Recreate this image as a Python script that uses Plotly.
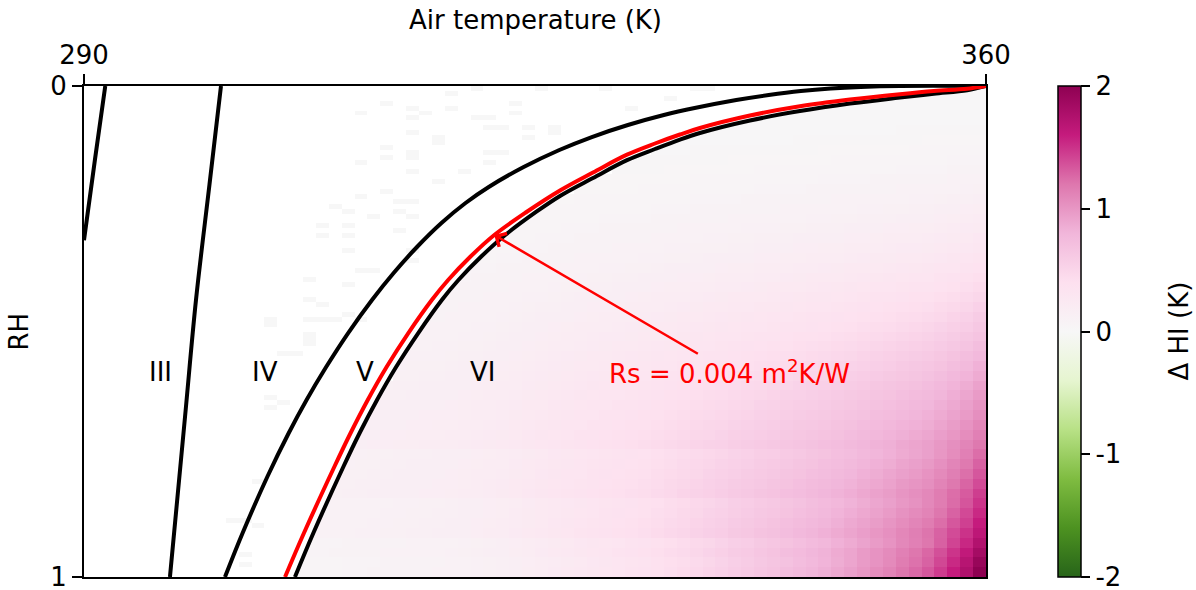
import plotly.graph_objects as go

# ---------------------------------------------------------------- data
T_TICKS = [290, 360]
RH_TICKS = [0, 1]
CBAR_TICKS = [-2, -1, 0, 1, 2]
CBAR_TICKTEXT = ["-2", "-1", "0", "1", "2"]

# Temperature cells of the ΔHI field (K), 1 K wide
T_CENTERS = [t + 0.5 for t in range(290, 360)]

# RH row centres of the ΔHI table, top (dry) to bottom (saturated)
RH_ROWS = [0.01, 0.03, 0.05, 0.07, 0.09, 0.11, 0.13, 0.15, 0.17, 0.19,
           0.21, 0.23, 0.25, 0.27, 0.29, 0.31, 0.33, 0.35, 0.37, 0.39,
           0.41, 0.43, 0.45, 0.47, 0.49, 0.51, 0.53, 0.55, 0.57, 0.59,
           0.61, 0.63, 0.65, 0.67, 0.69, 0.71, 0.73, 0.75, 0.77, 0.79,
           0.81, 0.83, 0.85, 0.87, 0.89, 0.91, 0.93, 0.95, 0.97, 0.99]

# ΔHI in units of 0.01 K; every row ends at the 359.5 K cell (region VI only)
DHI_ROWS = [
    [1, 1, 1, 1],
    [1, 1, 1, 1, 1, 1, 1, 1, 1, 1, 1],
    [1, 1, 1, 1, 1, 1, 1, 1, 1, 1, 2, 2, 2, 2, 2, 2],
    [1, 1, 1, 1, 1, 1, 1, 1, 2, 2, 2, 2, 2, 2, 2, 2, 2, 2, 2, 2],
    [1, 2, 2, 2, 2, 2, 2, 2, 2, 2, 2, 2, 2, 2, 2, 2, 3, 3, 3, 3, 3, 3, 3],
    [2, 2, 2, 2, 2, 2, 2, 2, 2, 2, 3, 3, 3, 3, 3, 3, 3, 3, 3, 3, 4, 4, 4, 4, 4],
    [2, 2, 2, 3, 3, 3, 3, 3, 3, 3, 3, 3, 3, 4, 4, 4, 4, 4, 4, 4, 5, 5, 5, 5, 6, 6],
    [3, 3, 3, 3, 3, 3, 3, 3, 4, 4, 4, 4, 4, 4, 4, 4, 5, 5, 5, 5, 5, 6, 6, 6, 6, 7, 7, 7],
    [3, 3, 3, 3, 4, 4, 4, 4, 4, 4, 4, 5, 5, 5, 5, 5, 5, 6, 6, 6, 6, 6, 7, 7, 7, 7, 8, 8, 9],
    [3, 4, 4, 4, 4, 4, 4, 4, 5, 5, 5, 5, 5, 6, 6, 6, 6, 6, 7, 7, 7, 7, 8, 8, 8, 8, 9, 9, 10, 10,
     11],
    [4, 4, 4, 4, 4, 5, 5, 5, 5, 6, 6, 6, 6, 6, 7, 7, 7, 7, 8, 8, 8, 8, 9, 9, 9, 10, 10, 10, 11,
     11, 12, 13],
    [4, 4, 5, 5, 5, 5, 5, 6, 6, 6, 6, 7, 7, 7, 7, 8, 8, 8, 8, 9, 9, 9, 10, 10, 10, 11, 11, 11, 12,
     12, 13, 14, 14, 15],
    [5, 5, 5, 5, 6, 6, 6, 6, 6, 7, 7, 7, 8, 8, 8, 9, 9, 9, 9, 10, 10, 10, 11, 11, 11, 12, 12, 13,
     13, 14, 14, 15, 16, 17, 18],
    [5, 5, 5, 6, 6, 6, 7, 7, 7, 7, 8, 8, 8, 9, 9, 9, 10, 10, 10, 11, 11, 11, 12, 12, 13, 13, 14,
     14, 14, 15, 16, 16, 17, 18, 19, 21],
    [5, 6, 6, 6, 7, 7, 7, 8, 8, 8, 8, 9, 9, 10, 10, 10, 11, 11, 12, 12, 12, 13, 13, 14, 14, 14, 15,
     16, 16, 17, 17, 18, 18, 19, 21, 22, 23],
    [5, 6, 6, 7, 7, 7, 8, 8, 8, 9, 9, 9, 10, 10, 11, 11, 12, 12, 13, 13, 14, 14, 14, 15, 15, 16,
     16, 17, 17, 18, 19, 20, 20, 21, 22, 23, 25, 27],
    [6, 6, 6, 7, 7, 8, 8, 9, 9, 9, 10, 10, 11, 11, 12, 12, 13, 13, 13, 14, 14, 15, 15, 16, 17, 17,
     18, 18, 19, 19, 20, 21, 22, 22, 23, 24, 26, 27, 29],
    [6, 6, 7, 7, 8, 8, 9, 9, 10, 10, 11, 11, 11, 12, 12, 13, 13, 14, 15, 15, 16, 16, 17, 17, 18,
     18, 19, 20, 20, 21, 22, 23, 23, 24, 25, 26, 27, 29, 31, 33],
    [7, 7, 7, 8, 8, 9, 9, 10, 10, 11, 11, 12, 12, 13, 13, 14, 15, 15, 16, 16, 17, 18, 18, 19, 19,
     20, 21, 21, 22, 23, 24, 24, 25, 26, 27, 28, 29, 31, 32, 34, 37],
    [7, 8, 8, 8, 9, 10, 10, 11, 11, 12, 13, 13, 14, 14, 15, 15, 16, 17, 17, 18, 19, 20, 20, 21, 21,
     22, 23, 24, 24, 25, 26, 27, 28, 29, 30, 31, 32, 34, 36, 38, 41],
    [7, 8, 8, 9, 9, 10, 11, 11, 12, 13, 13, 14, 14, 15, 16, 16, 17, 18, 18, 19, 20, 21, 21, 22, 23,
     24, 24, 25, 26, 27, 28, 29, 30, 31, 32, 33, 34, 35, 37, 39, 42, 45],
    [8, 8, 9, 9, 10, 10, 11, 12, 12, 13, 14, 15, 15, 16, 16, 17, 18, 19, 19, 20, 21, 22, 23, 24,
     24, 25, 26, 27, 28, 29, 29, 30, 31, 33, 34, 35, 36, 38, 39, 41, 43, 46, 49],
    [9, 9, 10, 10, 10, 11, 12, 13, 14, 14, 15, 16, 17, 17, 18, 19, 19, 20, 21, 22, 23, 24, 25, 26,
     26, 28, 28, 29, 30, 31, 32, 33, 34, 36, 37, 38, 40, 41, 42, 45, 47, 50, 54],
    [9, 9, 10, 10, 11, 11, 12, 13, 14, 15, 16, 16, 17, 18, 19, 19, 20, 21, 22, 23, 24, 25, 26, 27,
     28, 29, 30, 31, 32, 33, 34, 35, 36, 37, 39, 40, 41, 43, 44, 46, 48, 51, 54, 59],
    [10, 10, 10, 11, 12, 12, 13, 14, 15, 16, 17, 18, 19, 19, 20, 21, 22, 23, 24, 25, 26, 27, 28,
     29, 30, 31, 32, 33, 34, 35, 36, 37, 39, 40, 42, 43, 44, 46, 48, 50, 52, 55, 58, 63],
    [10, 11, 11, 11, 12, 12, 13, 14, 15, 16, 17, 18, 19, 20, 21, 22, 22, 23, 24, 25, 26, 28, 29,
     30, 31, 32, 33, 34, 35, 37, 38, 39, 40, 42, 43, 45, 46, 48, 50, 51, 53, 56, 59, 63, 67],
    [11, 11, 12, 12, 13, 13, 14, 15, 16, 17, 18, 19, 20, 21, 22, 23, 24, 25, 26, 27, 28, 30, 31,
     32, 33, 35, 36, 37, 38, 39, 41, 42, 43, 45, 46, 48, 50, 51, 53, 55, 57, 60, 63, 67, 72],
    [12, 12, 12, 12, 13, 14, 14, 15, 16, 17, 18, 19, 21, 22, 23, 24, 25, 26, 27, 28, 29, 30, 32,
     33, 34, 35, 37, 38, 40, 41, 42, 43, 45, 46, 48, 49, 51, 53, 55, 57, 59, 61, 64, 68, 72, 77],
    [12, 13, 13, 13, 14, 15, 15, 16, 17, 18, 19, 21, 22, 23, 24, 25, 26, 27, 28, 30, 31, 32, 34,
     35, 36, 38, 39, 40, 42, 43, 45, 46, 48, 49, 51, 52, 54, 56, 58, 61, 63, 65, 68, 72, 76, 83],
    [13, 13, 14, 14, 15, 15, 16, 17, 18, 19, 21, 22, 23, 25, 26, 27, 28, 29, 30, 31, 33, 34, 36,
     37, 39, 40, 42, 43, 45, 46, 47, 49, 50, 52, 54, 56, 58, 60, 62, 64, 66, 69, 72, 77, 81, 87],
    [13, 14, 14, 15, 15, 15, 16, 17, 18, 19, 20, 22, 23, 25, 26, 27, 29, 30, 31, 32, 33, 35, 36,
     38, 40, 41, 42, 44, 46, 47, 49, 50, 52, 54, 55, 57, 59, 61, 64, 66, 68, 70, 73, 77, 81, 86,
     93],
    [14, 14, 15, 15, 16, 16, 17, 18, 19, 20, 21, 23, 24, 26, 27, 29, 30, 31, 32, 33, 35, 36, 38,
     40, 41, 43, 44, 46, 48, 49, 51, 53, 54, 56, 58, 60, 62, 64, 66, 68, 71, 74, 76, 80, 85, 90,
     97],
    [14, 15, 15, 16, 16, 16, 17, 18, 19, 20, 21, 22, 24, 25, 27, 28, 30, 31, 32, 34, 35, 36, 38,
     40, 41, 43, 45, 46, 48, 49, 52, 53, 55, 57, 58, 60, 62, 64, 67, 69, 71, 74, 77, 79, 84, 88,
     94, 101],
    [15, 15, 16, 16, 17, 17, 17, 18, 19, 20, 21, 23, 25, 26, 28, 29, 31, 32, 34, 35, 36, 38, 39,
     41, 43, 45, 46, 48, 50, 51, 54, 55, 57, 59, 61, 62, 65, 67, 69, 72, 74, 77, 80, 83, 87, 92,
     97, 105],
    [15, 16, 16, 16, 17, 17, 18, 18, 19, 20, 21, 22, 24, 26, 28, 29, 31, 32, 34, 35, 37, 38, 39,
     41, 43, 45, 47, 49, 50, 52, 54, 56, 58, 60, 62, 63, 65, 68, 70, 73, 75, 78, 81, 83, 86, 91,
     96, 102, 110],
    [16, 16, 17, 17, 18, 18, 18, 19, 20, 21, 22, 23, 25, 27, 29, 30, 32, 34, 35, 37, 38, 40, 41,
     43, 45, 47, 49, 50, 52, 55, 56, 58, 60, 62, 64, 66, 68, 70, 73, 76, 78, 81, 84, 87, 90, 95,
     100, 106, 114],
    [16, 17, 17, 18, 18, 19, 19, 20, 21, 22, 23, 24, 26, 28, 30, 32, 33, 35, 37, 38, 40, 41, 43,
     45, 47, 49, 51, 53, 54, 57, 59, 61, 63, 65, 67, 69, 71, 73, 76, 79, 82, 84, 88, 91, 94, 99,
     105, 111, 119],
    [12, 12, 13, 13, 14, 14, 14, 15, 15, 16, 17, 18, 19, 21, 23, 25, 27, 28, 30, 31, 33, 34, 36,
     37, 40, 42, 44, 46, 48, 50, 52, 54, 57, 58, 61, 63, 66, 68, 71, 73, 77, 80, 83, 87, 90, 94,
     100, 106, 114, 124],
    [12, 13, 13, 14, 14, 15, 15, 15, 16, 17, 18, 19, 20, 22, 24, 26, 28, 29, 31, 33, 34, 36, 37,
     39, 41, 43, 46, 48, 50, 52, 54, 56, 59, 61, 63, 66, 68, 71, 73, 76, 80, 83, 86, 91, 94, 98,
     104, 111, 118, 129],
    [12, 13, 13, 14, 14, 15, 15, 16, 16, 17, 18, 19, 20, 21, 23, 25, 27, 29, 31, 32, 34, 36, 37,
     39, 40, 43, 45, 47, 49, 52, 54, 56, 59, 61, 63, 66, 68, 71, 73, 76, 79, 83, 86, 90, 94, 97,
     102, 108, 115, 123, 134],
    [13, 13, 14, 14, 15, 15, 16, 16, 17, 17, 18, 20, 21, 22, 24, 26, 28, 30, 32, 33, 35, 37, 39,
     40, 42, 44, 47, 49, 51, 54, 56, 59, 61, 63, 66, 68, 71, 74, 76, 79, 82, 86, 89, 93, 98, 101,
     105, 112, 119, 128, 139],
    [13, 14, 14, 15, 15, 16, 16, 17, 17, 18, 19, 20, 21, 23, 25, 27, 29, 31, 33, 35, 37, 38, 40,
     42, 43, 46, 48, 51, 53, 55, 58, 61, 63, 66, 68, 71, 73, 76, 79, 82, 85, 89, 93, 96, 101, 105,
     109, 116, 124, 132, 145],
    [9, 10, 10, 10, 11, 11, 12, 12, 13, 13, 14, 15, 16, 17, 18, 20, 22, 24, 26, 27, 29, 31, 33, 35,
     36, 38, 40, 43, 45, 48, 50, 52, 56, 58, 61, 63, 66, 69, 72, 75, 78, 82, 86, 90, 94, 99, 103,
     109, 116, 125, 135, 149],
    [9, 10, 10, 11, 11, 12, 12, 13, 13, 14, 14, 15, 16, 17, 18, 21, 23, 24, 26, 28, 30, 32, 34, 36,
     37, 39, 42, 44, 47, 49, 52, 54, 57, 60, 63, 65, 68, 71, 74, 77, 81, 85, 89, 93, 97, 103, 107,
     112, 120, 129, 140, 154],
    [10, 10, 11, 11, 12, 12, 13, 13, 14, 14, 15, 16, 17, 18, 19, 21, 23, 25, 27, 29, 31, 33, 35,
     37, 39, 41, 43, 46, 48, 51, 54, 56, 60, 62, 65, 68, 71, 74, 77, 80, 84, 88, 92, 96, 101, 106,
     111, 116, 124, 134, 144, 160],
    [9, 10, 11, 11, 12, 12, 13, 13, 14, 14, 15, 15, 16, 17, 19, 20, 22, 24, 26, 28, 30, 33, 34, 36,
     38, 40, 42, 45, 48, 50, 53, 56, 58, 62, 64, 68, 70, 73, 77, 80, 83, 87, 91, 95, 100, 104, 110,
     115, 121, 129, 139, 150, 166],
    [6, 7, 7, 8, 8, 9, 9, 9, 10, 10, 11, 11, 12, 13, 14, 15, 17, 19, 21, 23, 25, 27, 29, 30, 32,
     34, 36, 39, 41, 44, 47, 49, 52, 56, 58, 62, 65, 68, 71, 75, 78, 83, 87, 92, 97, 102, 109, 114,
     120, 130, 142, 155, 174],
    [7, 7, 8, 8, 9, 9, 10, 10, 10, 11, 11, 12, 13, 14, 15, 16, 18, 20, 22, 24, 26, 28, 30, 32, 34,
     36, 38, 41, 44, 46, 49, 52, 55, 59, 61, 65, 68, 72, 75, 79, 82, 87, 91, 97, 102, 107, 114, 120,
     127, 137, 149, 163, 183],
    [5, 5, 6, 6, 7, 7, 7, 8, 8, 8, 9, 9, 10, 11, 12, 13, 14, 15, 17, 19, 21, 23, 25, 27, 29, 31,
     33, 35, 38, 41, 43, 46, 49, 52, 56, 59, 63, 66, 69, 73, 77, 81, 86, 91, 97, 102, 108, 116, 122,
     129, 141, 154, 170, 193],
    [5, 6, 6, 6, 7, 7, 8, 8, 8, 9, 9, 10, 10, 11, 12, 13, 14, 16, 18, 20, 22, 24, 26, 28, 30, 32,
     34, 36, 39, 42, 45, 48, 51, 54, 58, 61, 65, 68, 72, 76, 80, 84, 89, 94, 100, 106, 112, 120, 126,
     134, 146, 160, 176, 200],
]

# Scattered near-zero cells outside region VI (K cell, RH in %)
NOISE_T = [311, 313, 315, 315, 316, 318, 318, 320, 320, 321, 321, 322, 323, 323, 324, 324, 325,
           326, 326, 315, 317, 317, 313, 313, 315, 315, 321, 321, 322, 311, 315, 319, 317, 311,
           313, 314, 315, 309, 310, 312, 314, 315, 308, 310, 310, 314, 308, 310, 315, 315, 311,
           312, 307, 310, 307, 308, 304, 307, 308, 309, 304, 307, 307, 307, 305, 306, 304, 305,
           304, 303, 301, 302, 303, 302, 302, 310, 311, 330, 332, 335, 337, 338]
NOISE_RH = [5, 3, 4, 6, 5, 1, 4, 0, 6, 6, 8, 8, 3, 5, 8, 10, 0, 8, 9, 9, 10, 11, 12, 14, 13, 14,
            13, 15, 13, 15, 17, 17, 19, 22, 21, 23, 23, 24, 25, 26, 25, 26, 28, 28, 30, 29, 30, 33,
            33, 35, 37, 37, 39, 40, 43, 44, 47, 47, 47, 47, 48, 50, 51, 52, 54, 54, 63, 64, 65, 80,
            88, 88, 89, 95, 97, 46, 47, 0, 4, 2, 0, 0]

# Regime boundaries (T in K, RH)
B23_T = [291.65, 290.85, 290.0]
B23_RH = [0.0, 0.15, 0.314]
B34_T = [300.63, 299.74, 298.69, 297.84, 296.67]
B34_RH = [0.0, 0.2, 0.436, 0.674, 1.0]
B45_T = [300.94, 302.31, 304.22, 305.89, 307.27, 308.79, 310.50, 312.35, 314.03, 315.84, 317.74,
         319.61, 321.41, 324.12, 326.89, 329.41, 332.21, 335.00, 337.39, 340.62, 343.14, 345.63,
         347.95, 350.28, 353.32, 360.0]
B45_RH = [1.0, 0.9104, 0.7963, 0.7067, 0.6395, 0.5723, 0.5031, 0.4358, 0.3809, 0.3279, 0.2790,
          0.2383, 0.2057, 0.1650, 0.1303, 0.1039, 0.0794, 0.0591, 0.0448, 0.0285, 0.0183, 0.0102,
          0.0051, 0.0020, 0.0, 0.0]
B56_T = [306.37, 307.80, 310.12, 311.39, 312.74, 314.22, 315.94, 317.77, 319.06, 320.79, 322.69,
         325.08, 326.94, 329.50, 332.14, 334.31, 336.25, 337.80, 341.68, 345.56, 349.44, 353.32,
         355.95, 358.54, 360.0]
B56_RH = [1.0, 0.9104, 0.7760, 0.7067, 0.6395, 0.5723, 0.5031, 0.4358, 0.3951, 0.3483, 0.3035,
          0.2566, 0.2240, 0.1874, 0.1511, 0.1283, 0.1090, 0.0957, 0.0703, 0.0511, 0.0358, 0.0236,
          0.0157, 0.0086, 0.0]
# Boundary for Rs = 0.004 m2K/W
RS_T = [305.60, 307.07, 309.42, 310.69, 312.02, 313.48, 315.17, 316.99, 318.26, 319.96, 321.84,
        324.34, 326.94, 329.50, 332.14, 334.31, 336.25, 337.80, 341.68, 345.56, 349.44, 353.32,
        355.95, 358.54, 360.0]
RS_RH = [1.0, 0.9104, 0.7760, 0.7067, 0.6395, 0.5723, 0.5031, 0.4358, 0.3951, 0.3483, 0.3035,
         0.2566, 0.2128, 0.1762, 0.1399, 0.1171, 0.0988, 0.0855, 0.0601, 0.0413, 0.0277, 0.0167,
         0.0102, 0.0055, 0.0]
RS_ARROW_INDEX = 10

REGIME_NAMES = ["III", "IV", "V", "VI"]
REGIME_T = [295.9, 304.05, 311.8, 320.96]
LABEL_RH = 0.583
RS_LABEL_T = 340.1

# matplotlib PiYG, reversed so that positive ΔHI is magenta
PIYG_R = [
    [0.0, "#276419"], [0.1, "#4d9221"], [0.2, "#7fbc41"], [0.3, "#b8e186"],
    [0.4, "#e6f5d0"], [0.5, "#f7f7f7"], [0.6, "#fde0ef"], [0.7, "#f1b6da"],
    [0.8, "#de77ae"], [0.9, "#c51b7d"], [1.0, "#8e0152"],
]

FONT = "DejaVu Sans"
FS = 26

# ---------------------------------------------------------------- tables
n_t = len(T_CENTERS)
dhi = [[None] * (n_t - len(row)) + [v / 100 for v in row] for row in DHI_ROWS]

rh_fine = [0.005 + 0.01 * j for j in range(100)]
noise = [[None] * n_t for _ in rh_fine]
for t, rh in zip(NOISE_T, NOISE_RH):
    noise[rh][t - 290] = 0.0

# ---------------------------------------------------------------- figure
fig = go.Figure()

fig.add_trace(go.Heatmap(
    x=T_CENTERS, y=RH_ROWS, z=dhi, colorscale=PIYG_R, zmin=-2, zmax=2,
    hoverinfo="skip",
    colorbar=dict(
        x=(1058 - 84) / 902, xanchor="left", xpad=0, thickness=23,
        len=1, lenmode="fraction", y=0.5, yanchor="middle", ypad=0,
        outlinewidth=1.5, outlinecolor="black",
        tickvals=CBAR_TICKS, ticktext=CBAR_TICKTEXT, ticks="outside",
        ticklen=9, tickwidth=2, tickcolor="black", ticklabeloverflow="allow",
        tickfont=dict(family=FONT, size=FS, color="black"),
    ),
))

# blank out everything left of the region-VI boundary
fig.add_trace(go.Scatter(
    x=[290] + B56_T + [290], y=[1.0] + B56_RH + [0.0],
    mode="lines", fill="toself", fillcolor="white", line=dict(width=0),
    hoverinfo="skip", showlegend=False,
))

# overlay subplot: residual cells and boundary curves
fig.add_trace(go.Heatmap(
    x=T_CENTERS, y=rh_fine, z=noise, colorscale=PIYG_R, zmin=-2, zmax=2,
    showscale=False, hoverinfo="skip", xaxis="x2", yaxis="y2",
))
for xs, ys in [(B23_T, B23_RH), (B34_T, B34_RH), (B45_T, B45_RH), (B56_T, B56_RH)]:
    fig.add_trace(go.Scatter(
        x=xs, y=ys, mode="lines",
        line=dict(color="black", width=4, shape="spline", smoothing=1.0),
        hoverinfo="skip", showlegend=False, xaxis="x2", yaxis="y2",
    ))
fig.add_trace(go.Scatter(
    x=RS_T, y=RS_RH, mode="lines",
    line=dict(color="red", width=4, shape="spline", smoothing=1.0),
    hoverinfo="skip", showlegend=False, xaxis="x2", yaxis="y2",
))

annotations = []
for name, t in zip(REGIME_NAMES, REGIME_T):
    annotations.append(dict(
        x=t, y=LABEL_RH, xref="x", yref="y", text=name, showarrow=False,
        font=dict(family=FONT, size=FS, color="black"),
    ))
annotations.append(dict(
    x=RS_T[RS_ARROW_INDEX], y=RS_RH[RS_ARROW_INDEX], xref="x", yref="y",
    ax=RS_LABEL_T, ay=LABEL_RH, axref="x", ayref="y",
    text="Rs = 0.004 m<sup>2</sup>K/W", font=dict(family=FONT, size=FS, color="red"),
    showarrow=True, arrowcolor="red", arrowwidth=2.5, arrowhead=4, arrowsize=1.2,
))
annotations.append(dict(
    x=0.5, y=1 + (86 - 20) / 491, xref="paper", yref="paper", text="Air temperature (K)",
    showarrow=False, yanchor="middle", font=dict(family=FONT, size=FS, color="black"),
))
annotations.append(dict(
    x=(18 - 84) / 902, y=0.5, xref="paper", yref="paper", text="RH", textangle=-90,
    showarrow=False, xanchor="center", font=dict(family=FONT, size=FS, color="black"),
))
annotations.append(dict(
    x=(1178 - 84) / 902, y=0.5, xref="paper", yref="paper", text="Δ HI (K)", textangle=-90,
    showarrow=False, xanchor="center", font=dict(family=FONT, size=FS, color="black"),
))

axis_style = dict(
    showgrid=False, zeroline=False, showline=True, linecolor="black", linewidth=2,
    mirror=True, ticks="outside", ticklen=10, tickwidth=2, tickcolor="black",
    ticklabeloverflow="allow",
    tickfont=dict(family=FONT, size=FS, color="black"),
)

fig.update_layout(
    width=1196, height=590,
    margin=dict(l=84, r=210, t=86, b=13, autoexpand=False),
    paper_bgcolor="white", plot_bgcolor="white",
    font=dict(family=FONT, size=FS, color="black"),
    showlegend=False,
    xaxis=dict(range=[290, 360], side="top", tickvals=T_TICKS, **axis_style),
    yaxis=dict(range=[1, 0], tickvals=RH_TICKS, **axis_style),
    xaxis2=dict(range=[290, 360], overlaying="x", anchor="y2", visible=False),
    yaxis2=dict(range=[1, 0], overlaying="y", anchor="x2", visible=False),
    annotations=annotations,
)

fig.write_html("out.html")
